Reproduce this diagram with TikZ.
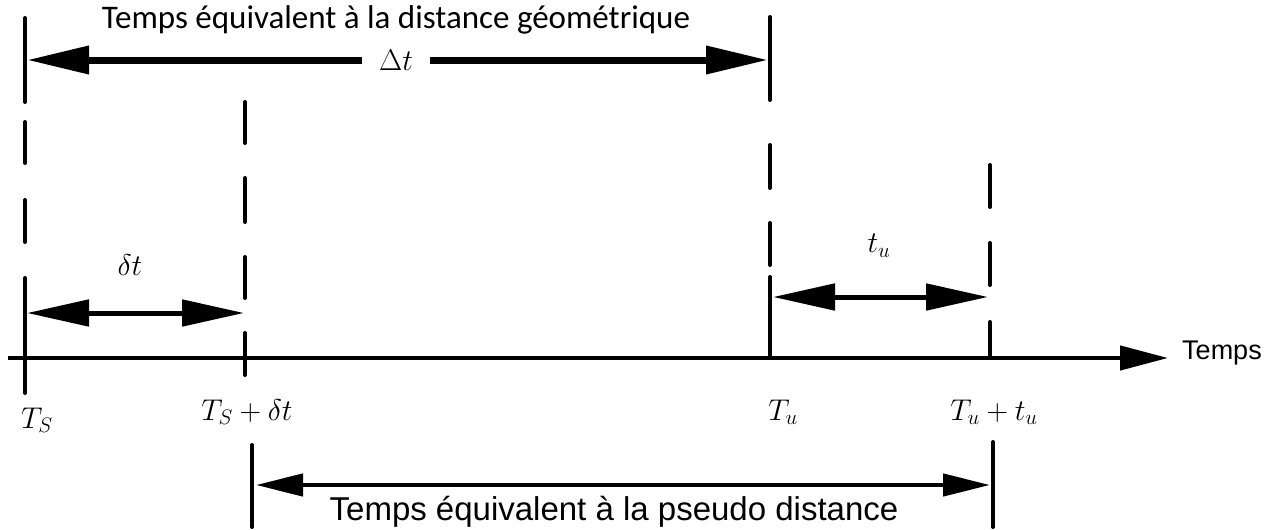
\documentclass[tikz,border=0pt]{standalone}
\usepackage{fix-cm}
\usepackage{fontspec}
\setmainfont{Liberation Sans}
\newfontfamily\calib{Carlito}
\usetikzlibrary{arrows.meta}
\tikzset{
  vline/.style={line width=4pt, line cap=round},
  axisline/.style={line width=4.5pt, -{Triangle[length=48pt,width=24pt]}},
  halfbig/.style={line width=7pt, -{Triangle[length=62pt,width=27pt]}},
  middim/.style={line width=5pt, {Triangle[length=62pt,width=26pt]}-{Triangle[length=62pt,width=26pt]}},
  smalldim/.style={line width=4.5pt, {Triangle[length=47pt,width=22pt]}-{Triangle[length=47pt,width=22pt]}},
  mathlbl/.style={inner sep=0pt, font=\fontsize{30}{34}\selectfont},
  toplbl/.style={inner sep=0pt, font=\calib\fontsize{33}{37}\selectfont},
  arlbl/.style={inner sep=0pt, font=\fontsize{33}{37}\selectfont},
}
\begin{document}
\begin{tikzpicture}[x=1pt,y=-1pt]
\useasboundingbox (0,0) rectangle (1283,530);
% coordinates
\coordinate (ax0) at (8,358);
\coordinate (axE) at (1168,358);
% axis
\draw[axisline] (ax0) -- (axE);
% T_S line (x=25)
\draw[vline] (25,18) -- (25,102);
\draw[vline] (25,122) -- (25,163);
\draw[vline] (25,200) -- (25,242);
\draw[vline] (25,278) -- (25,393);
% T_S + dt line (x=245)
\draw[vline] (245,102) -- (245,143);
\draw[vline] (245,178) -- (245,222);
\draw[vline] (245,257) -- (245,298);
\draw[vline] (245,333) -- (245,375);
% T_u line (x=770)
\draw[vline] (770,17) -- (770,100);
\draw[vline] (770,145) -- (770,188);
\draw[vline] (770,223) -- (770,265);
\draw[vline] (770,277) -- (770,358);
% T_u + t_u line (x=990)
\draw[vline] (990,165) -- (990,207);
\draw[vline] (990,243) -- (990,285);
\draw[vline] (990,322) -- (990,358);
% bottom bars
\draw[vline] (252,445) -- (252,527);
\draw[vline] (993,442) -- (993,527);
% top Delta t arrow
\coordinate (dtL) at (27,60);
\coordinate (dtR) at (768,60);
\node[mathlbl, minimum width=67pt] (Dt) at (396,60) {$\Delta t$};
\draw[halfbig] (Dt.west) -- (dtL);
\draw[halfbig] (Dt.east) -- (dtR);
% delta t arrow
\coordinate (sdL) at (27,313);
\coordinate (sdR) at (244,313);
\draw[middim] (sdL) -- (sdR);
% t_u arrow
\coordinate (tuL) at (773,297);
\coordinate (tuR) at (988,297);
\draw[middim] (tuL) -- (tuR);
% bottom arrow
\coordinate (pdL) at (256,485);
\coordinate (pdR) at (990,485);
\draw[smalldim] (pdL) -- (pdR);
% labels
\node[toplbl, anchor=base] (toptxt) at (396,28) {Temps équivalent à la distance géométrique};
\node[arlbl, anchor=base] (bottxt) at (614,520) {Temps équivalent à la pseudo distance};
\node[inner sep=0pt, anchor=base west, font=\fontsize{27}{31}\selectfont] (temps) at (1182,359) {Temps};
\node[mathlbl] (ldt) at (130,265) {$\delta t$};
\node[mathlbl] (ltu) at (879,246) {$t_u$};
\node[mathlbl, anchor=base] (lTS) at (37,428) {$T_S$};
\node[mathlbl, anchor=base] (lTSd) at (247,420) {$T_S+\delta t$};
\node[mathlbl, anchor=base] (lTu) at (783,420) {$T_u$};
\node[mathlbl, anchor=base] (lTut) at (994,420) {$T_u+t_u$};
\end{tikzpicture}
\end{document}
